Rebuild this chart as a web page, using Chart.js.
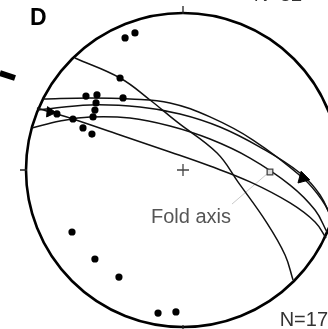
<!DOCTYPE html>
<html><head><meta charset="utf-8">
<script src="https://cdn.jsdelivr.net/npm/chart.js@4.4.1/dist/chart.umd.min.js"></script>
<style>html,body{margin:0;padding:0;background:#fff;overflow:hidden}canvas{display:block}</style>
</head><body>
<canvas id="c" width="328" height="329"></canvas>
<script>
// Stereonet coordinates: centre (0,0), primitive radius 1, north up
const circleA = [[-0.688,0.713],[-0.401,0.586],[-0.210,0.446],[-0.038,0.306],[0.217,0.108],[0.350,-0.076],[0.535,-0.338],[0.650,-0.541],[0.701,-0.701]];
const circleB = [[-0.892,0.452],[-0.592,0.459],[-0.338,0.452],[-0.083,0.427],[0.172,0.338],[0.446,0.191],[0.764,-0.051],[0.885,-0.191],[0.955,-0.318]];
const circleC = [[-0.924,0.382],[-0.592,0.414],[-0.274,0.401],[-0.019,0.357],[0.236,0.274],[0.490,0.146],[0.745,-0.019],[0.873,-0.159],[0.955,-0.331]];
const circleD = [[-0.962,0.268],[-0.783,0.312],[-0.592,0.338],[-0.338,0.331],[-0.083,0.280],[0.172,0.197],[0.427,0.076],[0.682,-0.096],[0.841,-0.255],[0.917,-0.395]];
const circleE = [[-0.930,0.395],[-0.847,0.369],[-0.701,0.325],[-0.401,0.223],[-0.083,0.115],[0.172,0.025],[0.427,-0.076],[0.682,-0.210],[0.841,-0.331],[0.911,-0.433]];
const poles = [[-0.369,0.841],[-0.306,0.873],[-0.401,0.586],[-0.618,0.471],[-0.548,0.478],[-0.382,0.459],[-0.554,0.427],[-0.561,0.382],[-0.573,0.338],[-0.701,0.325],[-0.803,0.357],[-0.637,0.268],[-0.580,0.229],[-0.707,-0.395],[-0.561,-0.567],[-0.408,-0.682],[-0.159,-0.911],[-0.045,-0.904]];
const triangleLeft = [[-0.847,0.369]];
const triangleRight = [[0.764,-0.051]];
const foldAxis = [[0.554,-0.013]];
const leader = [[0.312,-0.217],[0.535,-0.025]];
const centre = [[0,0]];
const edgeMark = [[-1.166,0.618],[-1.070,0.586]];
const labels = {panel:'D', count:'N=17', topCount:'N=32', fold:'Fold axis'};

const pts = a => a.map(p => ({x:p[0], y:p[1]}));
const R = 157, CX = 183, CY = 170, W = 328, H = 329;

const lineDs = (arr) => ({data:pts(arr), showLine:true, pointRadius:0, borderColor:'#111', borderWidth:1.5, tension:0.4, order:3});

const stereo = {
  id:'stereo',
  beforeDatasetsDraw(chart){
    const {ctx, scales:{x,y}} = chart;
    const cx = x.getPixelForValue(0), cy = y.getPixelForValue(0);
    const r = x.getPixelForValue(1) - cx;
    ctx.save();
    ctx.strokeStyle = '#000'; ctx.lineWidth = 2.6;
    ctx.beginPath(); ctx.arc(cx, cy, r, 0, Math.PI*2); ctx.stroke();
    ctx.lineWidth = 1.3; ctx.strokeStyle = '#222';
    ctx.beginPath();
    ctx.moveTo(cx, cy - r + 1); ctx.lineTo(cx, cy - r - 7);
    ctx.moveTo(cx, cy + r - 2); ctx.lineTo(cx, cy + r + 6);
    ctx.moveTo(cx - r + 1, cy); ctx.lineTo(cx - r - 6, cy);
    ctx.stroke();
    ctx.restore();
  },
  afterDatasetsDraw(chart){
    const {ctx} = chart;
    ctx.save();
    ctx.textBaseline = 'alphabetic';
    ctx.fillStyle = '#000';
    ctx.font = 'bold 23px "Liberation Sans", Arial, sans-serif';
    ctx.textAlign = 'left';
    ctx.fillText(labels.panel, 30, 25);
    ctx.fillStyle = '#555';
    ctx.font = '20px "Liberation Sans", Arial, sans-serif';
    ctx.fillText(labels.fold, 151, 223);
    ctx.fillStyle = '#333';
    ctx.textAlign = 'right';
    ctx.fillText(labels.count, 328, 326);
    ctx.fillText(labels.topCount, 302, 1);
    ctx.restore();
  }
};

new Chart(document.getElementById('c'), {
  type:'scatter',
  data:{datasets:[
    {data:pts(poles), pointRadius:3.6, pointBackgroundColor:'#000', pointBorderWidth:0, showLine:false, order:0},
    {data:pts(triangleLeft), pointStyle:'triangle', rotation:-25, pointRadius:6, pointBackgroundColor:'#000', pointBorderColor:'#000', showLine:false, order:0},
    {data:pts(triangleRight), pointStyle:'triangle', rotation:-15, pointRadius:7, pointBackgroundColor:'#000', pointBorderColor:'#000', showLine:false, order:0},
    {data:pts(foldAxis), pointStyle:'rect', pointRadius:4, pointBackgroundColor:'#ddd', pointBorderColor:'#444', pointBorderWidth:1.3, showLine:false, order:0},
    {data:pts(centre), pointStyle:'cross', pointRadius:6, pointBorderColor:'#444', pointBorderWidth:1.3, showLine:false, order:0},
    {data:pts(leader), showLine:true, pointRadius:0, borderColor:'#c8c8c8', borderWidth:1, order:4},
    {data:pts(edgeMark), showLine:true, pointRadius:0, borderColor:'#000', borderWidth:6, order:1, clip:false},
    lineDs(circleA), lineDs(circleB), lineDs(circleC), lineDs(circleD), lineDs(circleE)
  ]},
  options:{
    responsive:false, animation:false, devicePixelRatio:1,
    layout:{padding:0, autoPadding:false},
    plugins:{legend:{display:false}, tooltip:{enabled:false}},
    scales:{
      x:{type:'linear', display:false, min:-CX/R, max:(W-CX)/R},
      y:{type:'linear', display:false, min:-(H-CY)/R, max:CY/R}
    }
  },
  plugins:[stereo]
});
</script>
</body></html>
